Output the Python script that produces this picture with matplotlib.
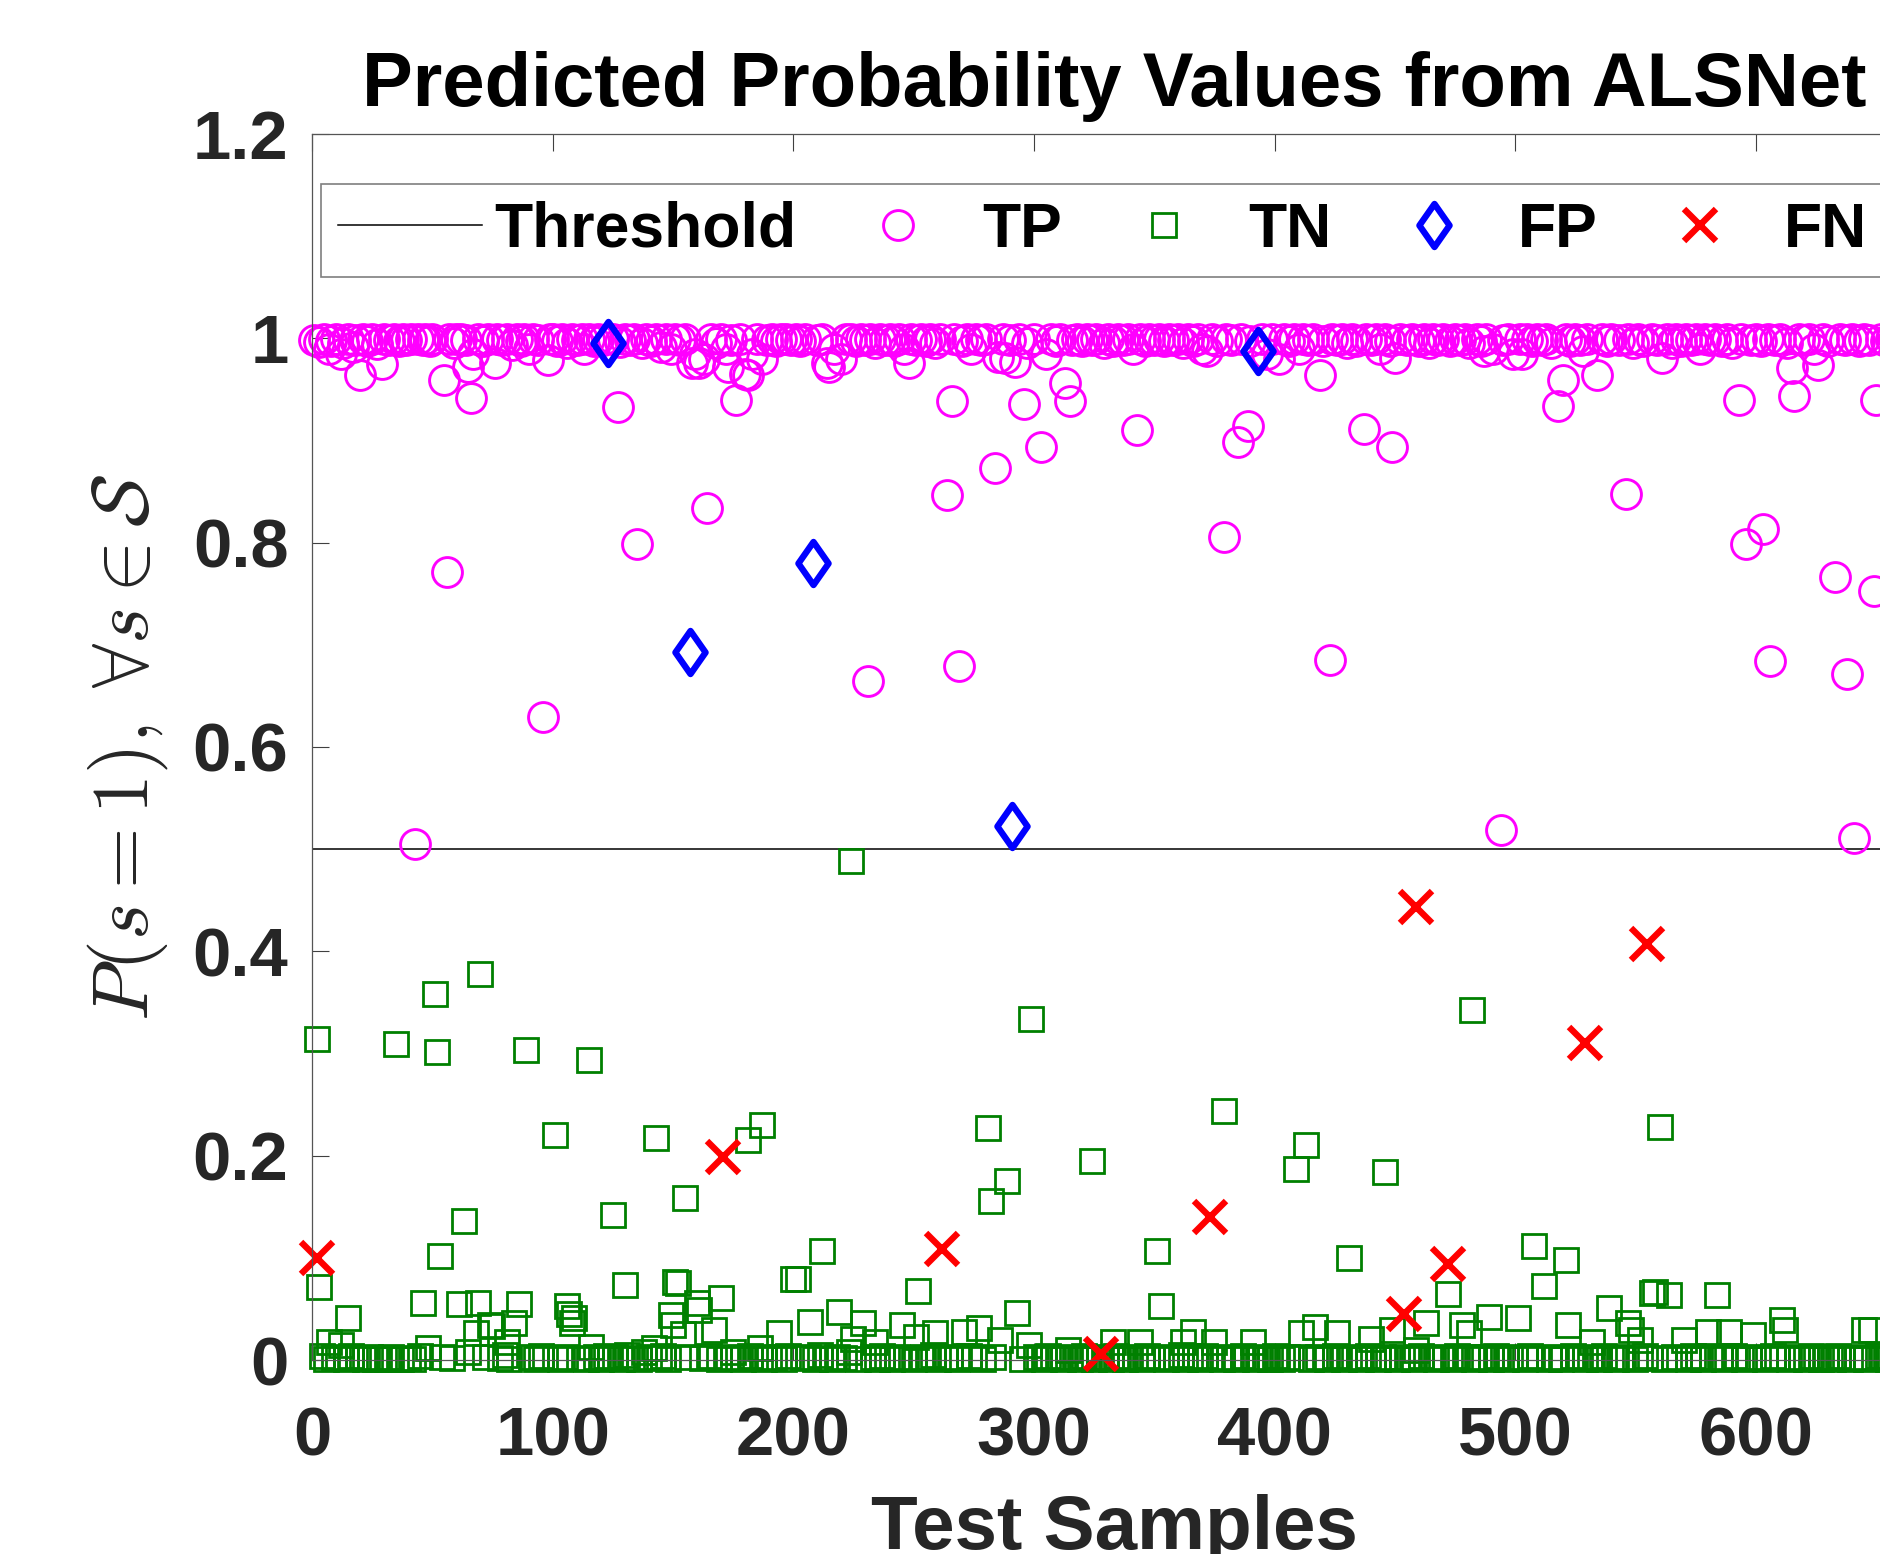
import numpy as np
import matplotlib.pyplot as plt
from matplotlib.path import Path
from matplotlib.markers import MarkerStyle

plt.rcParams['font.family'] = ['Liberation Sans', 'DejaVu Sans']
plt.rcParams['font.weight'] = 'bold'
plt.rcParams['mathtext.fontset'] = 'cm'

threshold = 0.5

# true positives (sample index, predicted probability)
tp_x = [1, 3, 5, 7, 8, 10, 12, 13, 15, 17, 18, 20, 21, 23, 25, 27, 29, 30, 32, 34, 36, 38, 39, 41, 43, 44, 46, 47, 49,
        50, 55, 56, 57, 59, 60, 62, 64, 65, 66, 67, 69, 71, 73, 76, 77, 79, 81, 83, 85, 87, 88, 90, 92, 94, 96, 98, 99,
        100, 102, 104, 106, 108, 110, 112, 113, 115, 117, 119, 121, 125, 127, 128, 130, 132, 134, 135, 137, 139, 141, 143, 145, 147, 149,
        151, 153, 155, 158, 159, 161, 163, 164, 166, 168, 170, 172, 173, 174, 176, 178, 180, 181, 183, 185, 187, 189, 191, 193, 195, 197, 199,
        201, 203, 205, 210, 212, 214, 215, 217, 220, 222, 224, 226, 228, 230, 231, 232, 234, 236, 238, 240, 242, 244, 246, 248, 249,
        251, 253, 255, 257, 259, 261, 264, 266, 267, 269, 270, 272, 274, 276, 278, 280, 284, 285, 287, 288, 290, 292, 294, 296, 297, 300,
        303, 305, 307, 309, 311, 313, 315, 316, 318, 320, 322, 324, 326, 329, 331, 333, 335, 337, 339, 341, 343, 344, 346, 348, 350,
        352, 354, 356, 358, 360, 362, 364, 366, 368, 370, 372, 374, 376, 379, 380, 382, 385, 386, 389, 390, 395, 397, 399,
        402, 404, 406, 408, 410, 412, 414, 416, 419, 420, 423, 424, 426, 428, 430, 432, 434, 437, 438, 440, 442, 444, 446, 448, 449, 450,
        452, 455, 457, 460, 462, 464, 466, 468, 470, 473, 475, 477, 479, 481, 484, 486, 487, 488, 491, 494, 495, 497, 499,
        502, 503, 505, 507, 509, 511, 513, 515, 518, 520, 521, 523, 525, 527, 528, 530, 534, 536, 538, 540, 543, 546, 547, 549,
        551, 553, 557, 559, 561, 563, 565, 567, 569, 571, 573, 575, 577, 579, 581, 583, 586, 588, 590, 593, 594, 596, 598, 600,
        602, 603, 605, 606, 608, 610, 613, 615, 616, 618, 620, 622, 624, 626, 628, 630, 633, 635, 637, 638, 640, 641, 643, 645, 647, 649, 650, 652, 654, 656, 658, 660]
tp_y = [.998, .996, .999, .990, .997, .999, .985, .995, .999, .992, .998, .964, .999, .997, .999, .994, .975, .999, .998, .999, .997, .999, .998, .999, .505, .999, .998, .999, .997,
        .999, .959, .771, .999, .995, .999, .999, .998, .972, .942, .985, .999, .997, .999, .976, .999, .998, .999, .993, .999, .997, .999, .990, .999, .998, .629, .979, .999,
        .999, .997, .999, .995, .999, .998, .999, .990, .999, .997, .999, .998, .999, .933, .996, .999, .998, .999, .799, .995, .999, .997, .999, .992, .999, .990,
        .999, .998, .999, .976, .985, .976, .980, .834, .999, .995, .999, .990, .972, .998, .940, .999, .965, .964, .985, .999, .980, .998, .999, .997, .999, .999, .998,
        .999, .997, .999, .998, .999, .976, .972, .990, .980, .999, .999, .997, .999, .998, .665, .999, .995, .999, .998, .999, .997, .999, .990, .976, .999,
        .998, .999, .997, .999, .995, .999, .847, .939, .999, .679, .997, .999, .990, .999, .998, .999, .873, .982, .999, .981, .998, .977, .999, .936, .995, .999,
        .894, .985, .999, .997, .999, .956, .939, .998, .999, .997, .999, .998, .999, .995, .999, .997, .999, .998, .999, .990, .910, .999, .997, .999, .998,
        .999, .997, .999, .998, .999, .995, .999, .997, .999, .990, .988, .999, .997, .806, .999, .998, .899, .999, .914, .997, .999, .985, .999,
        .980, .999, .997, .999, .990, .999, .998, .999, .964, .997, .685, .999, .998, .999, .995, .999, .997, .911, .999, .998, .999, .990, .999, .997, .894, .981,
        .999, .998, .999, .997, .999, .995, .999, .998, .999, .997, .999, .998, .999, .995, .999, .997, .988, .999, .990, .519, .998, .999, .985,
        .999, .985, .999, .997, .999, .998, .999, .995, .934, .959, .999, .997, .999, .998, .988, .999, .964, .999, .997, .999, .998, .848, .999, .995,
        .999, .997, .999, .998, .981, .999, .995, .999, .997, .999, .998, .999, .990, .999, .998, .999, .997, .999, .995, .940, .999, .799, .998, .999,
        .997, .813, .999, .684, .998, .999, .995, .971, .944, .999, .998, .999, .990, .974, .999, .997, .766, .999, .998, .671, .999, .511, .997, .999, .998, .753, .940, .999, .997, .999, .998, .999]

# true negatives
tn_x = [2, 3, 4, 6, 7, 9, 11, 12, 14, 15, 16, 19, 22, 24, 26, 28, 31, 33, 35, 37, 40, 42, 45, 46, 48,
        51, 52, 53, 54, 58, 61, 63, 65, 68, 69, 70, 72, 74, 75, 78, 80, 81, 82, 84, 86, 89, 91, 93, 95, 97,
        101, 103, 105, 106, 107, 108, 109, 111, 114, 115, 116, 118, 120, 122, 124, 125, 126, 129, 130, 131, 133, 136, 138, 140, 142, 143, 144, 146, 148, 149,
        150, 151, 152, 154, 155, 156, 160, 161, 162, 165, 167, 169, 170, 173, 175, 177, 179, 181, 182, 184, 186, 187, 188, 190, 192, 194, 196, 198,
        200, 202, 204, 206, 207, 209, 211, 212, 213, 216, 218, 219, 221, 223, 224, 225, 227, 229, 233, 234, 235, 237, 239, 241, 243, 245, 247,
        250, 251, 252, 254, 256, 258, 259, 260, 263, 265, 268, 271, 273, 275, 277, 279, 281, 282, 283, 286, 289, 293, 295, 298, 299,
        301, 302, 304, 306, 308, 310, 312, 314, 317, 319, 321, 323, 324, 325, 327, 330, 332, 333, 334, 336, 338, 340, 342, 344, 345, 347, 349,
        351, 353, 355, 357, 359, 361, 362, 363, 365, 366, 367, 369, 371, 375, 377, 378, 379, 381, 383, 384, 387, 388, 391, 392, 394, 396, 398,
        400, 401, 403, 405, 407, 409, 411, 413, 415, 417, 418, 421, 422, 425, 426, 427, 429, 431, 433, 435, 436, 439, 440, 441, 443, 445, 446, 447, 449,
        451, 453, 456, 458, 459, 461, 463, 465, 467, 469, 471, 472, 474, 476, 478, 480, 481, 482, 483, 485, 487, 489, 490, 492, 493, 496, 498,
        500, 501, 504, 506, 508, 510, 512, 514, 516, 517, 519, 521, 522, 524, 526, 529, 531, 532, 533, 535, 537, 539, 541, 542, 544, 545, 547, 548,
        550, 552, 554, 556, 557, 558, 560, 562, 564, 566, 568, 570, 572, 574, 576, 578, 580, 582, 584, 585, 587, 589, 591, 592, 595, 597, 599,
        601, 604, 607, 609, 611, 612, 614, 617, 619, 621, 623, 625, 627, 629, 631, 632, 634, 636, 639, 642, 644, 645, 646, 648, 651, 653, 655, 657, 659]
tn_y = [.314, .071, .004, .001, .018, .003, .002, .015, .001, .041, .004, .002, .001, .003, .001, .002, .001, .003, .309, .001, .002, .001, .004, .056, .012,
        .358, .301, .102, .003, .002, .055, .136, .008, .026, .056, .378, .003, .034, .033, .002, .005, .018, .001, .036, .055, .303, .003, .001, .004, .002,
        .220, .001, .003, .053, .045, .036, .041, .002, .001, .294, .013, .003, .001, .004, .002, .142, .003, .001, .073, .005, .002, .001, .008, .003, .012, .217, .002, .004, .001, .044,
        .034, .076, .075, .025, .159, .003, .056, .049, .002, .004, .029, .001, .061, .003, .008, .002, .001, .215, .004, .002, .012, .230, .001, .003, .002, .026, .001, .004,
        .079, .079, .002, .003, .037, .001, .005, .107, .002, .001, .003, .047, .002, .008, .488, .021, .001, .036, .003, .018, .001, .004, .002, .001, .003, .034, .002,
        .001, .023, .068, .003, .002, .005, .026, .001, .003, .002, .001, .027, .004, .002, .031, .001, .227, .156, .003, .020, .175, .046, .001, .015, .334,
        .003, .002, .001, .004, .002, .003, .001, .010, .002, .001, .004, .002, .195, .001, .003, .002, .001, .018, .004, .002, .001, .003, .002, .018, .001, .004, .002,
        .107, .053, .001, .003, .002, .005, .018, .001, .002, .027, .003, .001, .004, .018, .002, .001, .244, .003, .002, .001, .004, .002, .018, .001, .003, .002, .001,
        .004, .002, .001, .003, .002, .187, .026, .210, .001, .032, .003, .002, .001, .004, .026, .002, .001, .100, .003, .002, .001, .004, .021, .002, .001, .003, .184, .002, .029,
        .001, .003, .002, .001, .010, .004, .036, .002, .001, .003, .002, .065, .001, .004, .034, .002, .026, .343, .001, .003, .002, .042, .001, .004, .002, .001, .003,
        .002, .041, .001, .004, .112, .002, .072, .001, .003, .002, .001, .098, .034, .004, .002, .001, .003, .018, .002, .001, .004, .051, .002, .001, .003, .002, .036, .029,
        .001, .020, .004, .002, .066, .067, .228, .001, .064, .003, .002, .020, .001, .004, .002, .001, .027, .003, .064, .002, .001, .027, .004, .002, .001, .003, .024,
        .002, .001, .004, .002, .039, .029, .001, .003, .002, .001, .004, .002, .001, .003, .002, .001, .004, .002, .001, .003, .002, .029, .001, .029, .004, .002, .001, .003, .002]

# false positives / false negatives
fp_x = [123, 157, 208, 291, 393]
fp_y = [.995, .693, .780, .523, .988]
fn_x = [2, 171, 262, 328, 373, 454, 459, 472, 529, 555]
fn_y = [.100, .199, .109, .006, .140, .045, .443, .094, .310, .407]

x_ticks = [0, 100, 200, 300, 400, 500, 600]
y_ticks = [0, 0.2, 0.4, 0.6, 0.8, 1.0, 1.2]
y_tick_labels = ['0', '0.2', '0.4', '0.6', '0.8', '1', '1.2']

fig = plt.figure(figsize=(18.81, 15.54), dpi=100)
ax = fig.add_axes([312 / 1881, 1 - 1360 / 1554, 1605 / 1881, 1226 / 1554])

ax.axhline(threshold, color='k', lw=1.1, label='Threshold')
ax.plot(tp_x, tp_y, ls='none', marker='o', ms=21.5, mfc='none', mec=(1, 0, 1),
        mew=2.1, clip_on=False, label='TP')
ax.plot(tn_x, tn_y, ls='none', marker='s', ms=17.5, mfc='none', mec=(0, 0.5, 0),
        mew=2.0, clip_on=False, label='TN')
diamond = Path([(0, 1), (0.7, 0), (0, -1), (-0.7, 0), (0, 1)],
               [Path.MOVETO, Path.LINETO, Path.LINETO, Path.LINETO, Path.CLOSEPOLY])
ax.plot(fp_x, fp_y, ls='none', marker=MarkerStyle(diamond, joinstyle='miter'), ms=31,
        mfc='none', mec=(0, 0, 1), mew=4.6, clip_on=False, label='FP')
ax.plot(fn_x, fn_y, ls='none', marker='x', ms=23, mec=(1, 0, 0), mew=4.6,
        clip_on=False, label='FN')

ax.set_xlim(0, 667)
ax.set_ylim(0, 1.2)
ax.set_xticks(x_ticks)
ax.set_yticks(y_ticks)
ax.set_yticklabels(y_tick_labels)
ax.tick_params(direction='in', top=True, right=True, length=12, width=0.8,
               color='#404040', labelsize=49.5, labelcolor='#262626')
ax.tick_params(axis='x', pad=33)
ax.tick_params(axis='y', pad=17)
for s in ax.spines.values():
    s.set_color('#555555')
    s.set_linewidth(0.9)

ax.set_title('Predicted Probability Values from ALSNet', fontsize=54.7,
             fontweight='bold', pad=20, color='k')
ax.set_xlabel('Test Samples', fontsize=55, fontweight='bold', color='#262626', va='top')
ax.xaxis.set_label_coords(0.5, -0.1093)
ax.set_ylabel(r'$P(s=1),\;\forall s \in \mathcal{S}$', fontsize=57,
              fontweight='normal', color='#262626', va='center', ha='center')
ax.yaxis.set_label_coords((128 - 312) / 1605, 0.5)

leg = ax.legend(loc='upper left', bbox_to_anchor=(9 / 1605, (1360 - 184) / 1226),
                ncol=5, frameon=True, fancybox=False, edgecolor='#7f7f7f',
                framealpha=1, fontsize=45, handlelength=2.3, handletextpad=0.2,
                columnspacing=0.48, borderpad=0.27, borderaxespad=0, numpoints=1)
leg.get_frame().set_linewidth(1.2)

fig.savefig('out.png', dpi=100)
